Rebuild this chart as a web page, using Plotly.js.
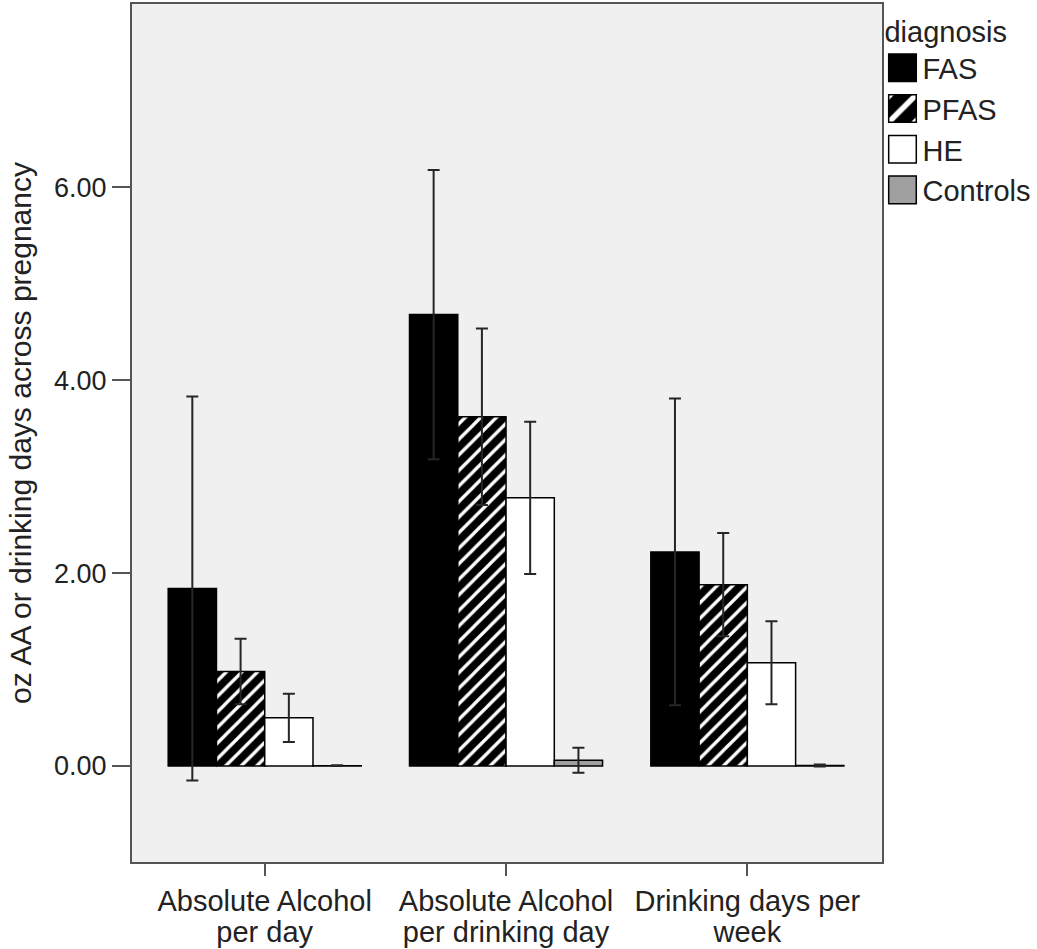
<!DOCTYPE html>
<html>
<head>
<meta charset="utf-8">
<script src="https://cdn.plot.ly/plotly-3.0.1.min.js"></script>
<style>html,body{margin:0;padding:0;background:#fff;}</style>
</head>
<body>
<div id="chart" style="width:1037px;height:949px;"></div>
<script>
const categories = ["Absolute Alcohol<br>per day", "Absolute Alcohol<br>per drinking day", "Drinking days per<br>week"];
const fasValues = [1.84, 4.68, 2.22];
const fasErr = [1.99, 1.50, 1.59];
const pfasValues = [0.98, 3.62, 1.88];
const pfasErr = [0.34, 0.915, 0.535];
const heValues = [0.50, 2.78, 1.07];
const heErr = [0.25, 0.79, 0.43];
const ctrlValues = [0.003, 0.06, 0.005];
const ctrlErr = [0.004, 0.13, 0.01];
const yTicks = [0, 2, 4, 6];

const FONT = "Liberation Sans, Arial, sans-serif";
const TXT = '#222';
const errStyle = {type: 'data', visible: true, color: '#262626', thickness: 2, width: 6};

function trace(name, y, err, marker) {
  return {
    type: 'bar', name: name, x: categories, y: y,
    error_y: Object.assign({array: err}, errStyle),
    marker: marker
  };
}

const data = [
  trace('FAS', fasValues, fasErr, {color: '#000000', line: {color: '#000', width: 1.5}}),
  trace('PFAS', pfasValues, pfasErr, {color: '#000000', line: {color: '#000', width: 1.5},
    pattern: {shape: '/', bgcolor: '#000000', fgcolor: '#ffffff', size: 11, solidity: 0.3, fillmode: 'replace'}}),
  trace('HE', heValues, heErr, {color: '#ffffff', line: {color: '#000', width: 1.5}}),
  trace('Controls', ctrlValues, ctrlErr, {color: '#a0a0a0', line: {color: '#000', width: 1.5}})
];

const layout = {
  width: 1037, height: 949,
  margin: {l: 132, r: 152, t: 4, b: 87},
  paper_bgcolor: '#ffffff',
  plot_bgcolor: '#f0f0f0',
  barmode: 'group',
  bargap: 0.2,
  bargroupgap: 0,
  font: {family: FONT, size: 29, color: TXT},
  xaxis: {
    type: 'category',
    range: [-0.55, 2.56],
    showline: true, mirror: true, linecolor: '#555', linewidth: 2,
    ticks: 'outside', ticklen: 12, tickwidth: 2, tickcolor: '#555',
    showgrid: false, zeroline: false,
    tickfont: {family: FONT, size: 29, color: TXT}
  },
  yaxis: {
    range: [-0.995, 7.9],
    tickvals: yTicks,
    tickformat: '.2f',
    showline: true, mirror: true, linecolor: '#555', linewidth: 2,
    ticks: 'outside', ticklen: 18, tickwidth: 2, tickcolor: '#555',
    showgrid: false, zeroline: false,
    tickfont: {family: FONT, size: 27, color: TXT},
    title: {text: 'oz AA or drinking days across pregnancy', font: {family: FONT, size: 30, color: TXT}, standoff: 14}
  },
  legend: {
    xref: 'container', yref: 'container',
    x: 0.851, y: 0.995, xanchor: 'left', yanchor: 'top',
    title: {text: 'diagnosis', font: {family: FONT, size: 29, color: TXT}},
    font: {family: FONT, size: 29, color: TXT},
    bgcolor: 'rgba(0,0,0,0)',
    itemwidth: 30,
    tracegroupgap: 0
  },
  showlegend: true
};

Plotly.newPlot('chart', data, layout, {displayModeBar: false, staticPlot: true}).then(function (gd) {
  // slightly tighter line spacing in the two-line category labels
  gd.querySelectorAll('.xtick text tspan.line').forEach(function (t) {
    if (t.getAttribute('dy') === '1.3em') t.setAttribute('dy', '1.08em');
  });
  // larger legend swatches
  gd.querySelectorAll('.legend .legendpoints path').forEach(function (p) {
    const tr = p.getAttribute('transform') || '';
    p.setAttribute('transform', tr + ' scale(2.3)');
    p.style.vectorEffect = 'non-scaling-stroke';
  });
});
</script>
</body>
</html>
